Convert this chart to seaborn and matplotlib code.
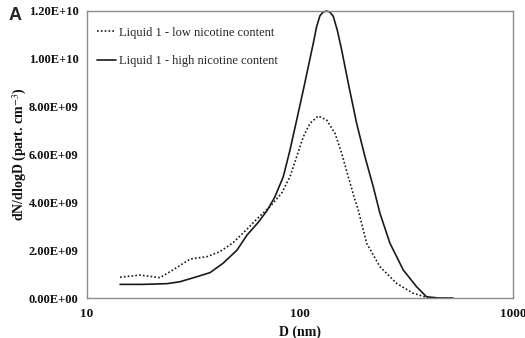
import matplotlib
matplotlib.use("Agg")
import matplotlib.pyplot as plt
import matplotlib.ticker as mticker
import seaborn as sns
import pandas as pd

# Particle size distributions (D in nm, dN/dlogD in units of 1e9 part. cm^-3)
d_low = [14.3, 17.7, 22.0, 25.3, 30.5, 36.6, 42.1, 48.5, 56.4, 63.5, 72.3, 82.0,
         89.8, 96.5, 103.7, 111.4, 121.8, 133.5, 146.0, 157.0, 168.6, 181.3,
         187.8, 205.6, 237.5, 284.6, 340.0, 393.0, 430.0]
n_low = [0.87, 0.96, 0.85, 1.17, 1.63, 1.73, 1.94, 2.31, 2.88, 3.35, 3.82, 4.38,
         5.07, 5.91, 6.74, 7.30, 7.61, 7.44, 6.89, 6.05, 5.07, 4.10,
         3.68, 2.29, 1.31, 0.61, 0.20, 0.03, 0.0]

d_high = [14.3, 18.3, 23.8, 27.3, 32.8, 37.8, 43.5, 50.6, 56.4, 63.5, 70.0, 76.0,
          83.5, 89.8, 96.5, 103.7, 109.4, 115.5, 119.7, 124.1, 128.2, 133.5,
          138.3, 143.3, 149.7, 157.0, 168.6, 184.6, 201.9, 220.9, 237.5, 264.6,
          305.6, 353.0, 393.0, 450.0, 523.0]
n_high = [0.57, 0.57, 0.60, 0.68, 0.89, 1.06, 1.45, 2.00, 2.63, 3.15, 3.65, 4.20,
          5.07, 6.19, 7.44, 8.70, 9.67, 10.65, 11.34, 11.80, 11.95, 12.00,
          11.95, 11.78, 11.20, 10.37, 8.98, 7.30, 5.91, 4.65, 3.54, 2.29,
          1.17, 0.47, 0.05, 0.0, 0.0]

labels = ["Liquid 1 - low nicotine content", "Liquid 1 - high nicotine content"]

low = pd.DataFrame({"D": d_low, "N": [v * 1e9 for v in n_low]})
high = pd.DataFrame({"D": d_high, "N": [v * 1e9 for v in n_high]})

sns.set_style("white")
plt.rcParams["font.family"] = ["Liberation Serif", "DejaVu Serif"]
plt.rcParams["mathtext.fontset"] = "stix"

fig = plt.figure(figsize=(5.25, 3.38), dpi=100)
ax = fig.add_axes([0.1657, 0.1183, 0.8113, 0.8492])

sns.lineplot(data=low, x="D", y="N", ax=ax, color="#1a1a1a", lw=1.2,
             linestyle=(0, (1, 1.3)), label=labels[0], sort=False)
sns.lineplot(data=high, x="D", y="N", ax=ax, color="#1a1a1a", lw=1.2,
             linestyle="-", label=labels[1], sort=False)
for ln in ax.get_lines():
    ln.set_solid_joinstyle("round")
    ln.set_clip_on(False)

ax.set_xscale("log")
ax.set_xlim(10, 1000)
ax.set_ylim(0, 1.2e10)
ax.xaxis.set_major_locator(mticker.FixedLocator([10, 100, 1000]))
ax.xaxis.set_minor_locator(mticker.NullLocator())
ax.xaxis.set_major_formatter(mticker.FuncFormatter(lambda v, p: f"{v:g}"))
ax.yaxis.set_major_locator(mticker.MultipleLocator(2e9))
ax.yaxis.set_major_formatter(mticker.FuncFormatter(lambda v, p: f"{v:.2E}"))

for s in ax.spines.values():
    s.set_visible(True)
    s.set_color("#8c8c8c")
    s.set_linewidth(1.0)

ax.tick_params(axis="both", direction="in", length=3, width=0.8, color="#8c8c8c",
               labelcolor="#111111")
ax.tick_params(axis="y", pad=6, labelsize=9)
ax.tick_params(axis="x", pad=7, labelsize=9.5)
for t in ax.get_yticklabels() + ax.get_xticklabels():
    t.set_fontweight("bold")

ax.set_xlabel("D (nm)", fontsize=10, fontweight="bold", labelpad=4,
              color="#111111")
ax.set_ylabel("dN/dlogD (part. cm$^{-3}$)", fontsize=10, fontweight="bold",
              labelpad=0, color="#111111")

leg = ax.legend(loc="upper left", frameon=False, fontsize=9, handlelength=1.5,
                handletextpad=0.3, labelspacing=1.3, borderaxespad=0.4,
                bbox_to_anchor=(0.0, 0.98))

fig.text(0.017, 0.955, "A", fontsize=13, fontweight="bold",
         family=["Liberation Sans", "DejaVu Sans"], va="center", ha="left")

fig.savefig("out.png", dpi=100)
